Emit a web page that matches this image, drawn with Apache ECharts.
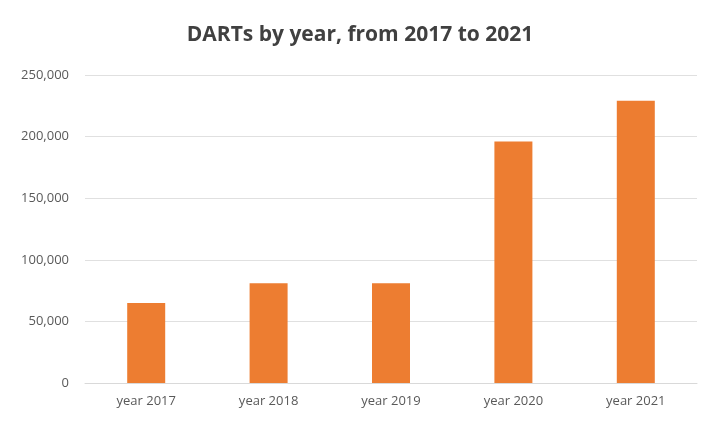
<!DOCTYPE html>
<html><head><meta charset="utf-8">
<script src="https://cdn.jsdelivr.net/npm/echarts@6/dist/echarts.min.js"></script>
<style>html,body{margin:0;padding:0;background:#fff}#c{width:720px;height:431px}</style>
</head><body><div id="c"></div>
<script>
const categories = ["year 2017","year 2018","year 2019","year 2020","year 2021"];
const values = [65000, 81000, 81000, 196000, 229000];
const chart = echarts.init(document.getElementById('c'));
chart.setOption({
  animation:false,
  title:{text:"DARTs by year, from 2017 to 2021",left:'center',top:20,
    textStyle:{fontFamily:"Open Sans",fontSize:21,fontWeight:'bold',color:'#404040'}},
  grid:{left:85,right:23,top:75,bottom:48},
  xAxis:{type:'category',data:categories,
    axisLine:{lineStyle:{color:'#d9d9d9'}},axisTick:{show:false},
    axisLabel:{color:'#595959',fontFamily:"Open Sans",fontSize:13,margin:12}},
  yAxis:{type:'value',min:0,max:250000,interval:50000,
    axisLine:{show:false},axisTick:{show:false},
    splitLine:{lineStyle:{color:'#e0e0e0'}},
    axisLabel:{color:'#595959',fontFamily:"Open Sans",fontSize:13,margin:16}},
  series:[{type:'bar',data:values,barWidth:38,itemStyle:{color:'#ED7D31'}}]
});
</script></body></html>
